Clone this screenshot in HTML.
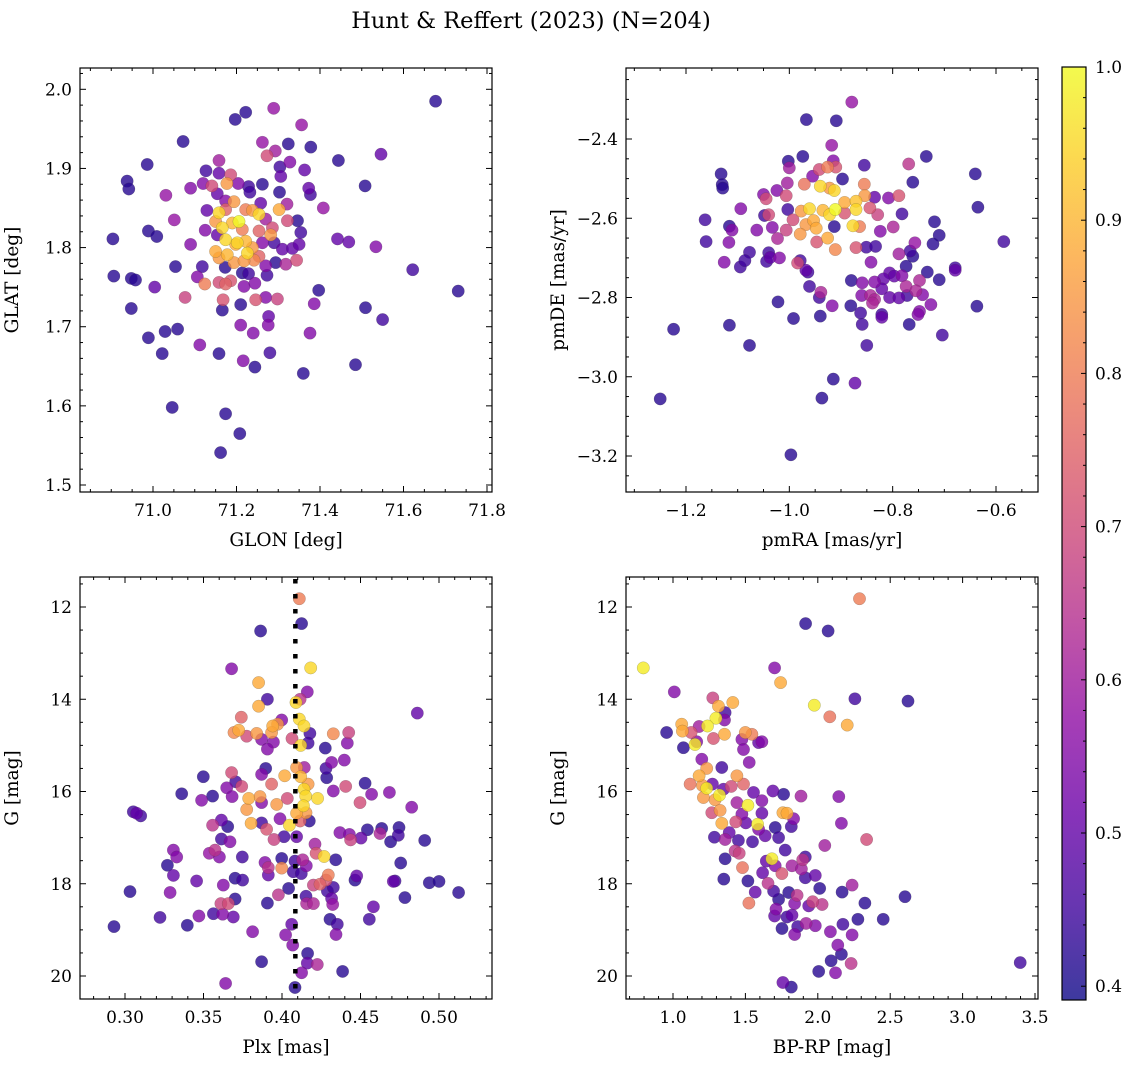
<!DOCTYPE html>
<html><head><meta charset="utf-8">
<style>
html,body{margin:0;padding:0;background:#fff;}
svg{display:block;font-family:"DejaVu Serif","Liberation Serif",serif;}
</style></head>
<body>
<svg id="fig" width="1136" height="1067" viewBox="0 0 1136 1067" xmlns="http://www.w3.org/2000/svg">
<text x="531" y="28" font-size="22.5" text-anchor="middle">Hunt &amp; Reffert (2023) (N=204)</text>
<g id="g1"></g>
<g id="g2"></g>
<g id="g3"></g>
<g id="g4"></g>
<g id="gcb"></g>
</svg>
<script>
// Panel 1: GLON / GLAT
const p1x=[71.677,71.289,71.222,71.197,71.356,71.072,71.262,71.324,71.378,71.293,71.273,71.546,71.158,71.444,70.986,71.328,71.304,71.127,71.363,71.158,71.306,71.186,70.938,70.942,71.12,71.141,71.177,71.204,71.09,71.262,71.229,71.232,71.303,71.373,71.377,71.508,71.031,71.154,71.174,71.194,71.258,71.321,71.408,71.129,71.158,71.174,71.222,71.238,71.254,71.302,71.051,71.206,71.19,71.15,71.322,71.346,71.27,71.166,71.214,71.254,71.286,71.125,70.989,71.009,70.904,71.354,71.282,71.154,71.174,71.202,71.222,71.238,71.226,71.198,71.262,71.29,71.31,71.334,71.35,71.442,71.469,71.534,71.09,71.15,71.158,71.178,71.194,71.218,71.242,71.254,71.294,71.318,71.344,71.054,71.118,71.173,71.27,71.622,70.906,70.948,70.958,71.106,71.214,71.229,71.273,71.158,71.186,71.174,71.124,71.218,71.244,71.004,71.731,71.397,71.077,71.168,71.246,71.27,71.298,70.948,71.21,71.166,71.386,71.509,71.55,71.277,71.276,71.21,71.029,71.059,71.24,71.376,70.989,71.112,71.022,71.158,71.28,71.216,71.244,71.36,71.485,71.046,71.174,71.208,71.162];
const p1y=[1.985,1.976,1.971,1.962,1.955,1.934,1.933,1.931,1.927,1.922,1.916,1.918,1.91,1.91,1.905,1.908,1.902,1.897,1.898,1.894,1.89,1.892,1.884,1.874,1.881,1.878,1.881,1.881,1.875,1.88,1.877,1.87,1.87,1.875,1.867,1.878,1.866,1.868,1.859,1.858,1.856,1.855,1.85,1.847,1.844,1.848,1.848,1.847,1.842,1.848,1.835,1.833,1.831,1.833,1.834,1.834,1.836,1.825,1.823,1.821,1.825,1.822,1.821,1.814,1.811,1.819,1.816,1.816,1.81,1.806,1.808,1.8,1.793,1.804,1.806,1.806,1.798,1.799,1.804,1.811,1.807,1.801,1.804,1.795,1.787,1.791,1.781,1.783,1.784,1.789,1.781,1.779,1.784,1.776,1.776,1.775,1.777,1.772,1.764,1.761,1.759,1.763,1.768,1.767,1.765,1.756,1.758,1.754,1.754,1.751,1.755,1.75,1.745,1.746,1.737,1.734,1.734,1.737,1.735,1.723,1.728,1.721,1.729,1.724,1.709,1.713,1.702,1.702,1.694,1.697,1.692,1.692,1.686,1.677,1.666,1.666,1.667,1.657,1.649,1.641,1.652,1.598,1.59,1.565,1.541];
const p1p=[0.42,0.58,0.42,0.42,0.58,0.42,0.58,0.42,0.42,0.6,0.7,0.5,0.6,0.42,0.42,0.55,0.45,0.45,0.5,0.5,0.5,0.7,0.42,0.42,0.55,0.7,0.85,0.55,0.55,0.42,0.45,0.45,0.42,0.5,0.45,0.42,0.58,0.5,0.55,0.85,0.5,0.6,0.58,0.5,0.95,0.75,0.8,0.85,0.95,0.88,0.58,1.0,0.9,0.85,0.7,0.42,0.6,0.95,0.8,0.75,0.7,0.55,0.42,0.42,0.42,0.45,0.85,0.5,0.95,0.95,0.9,0.85,0.95,0.88,0.55,0.45,0.5,0.5,0.5,0.5,0.5,0.55,0.55,0.88,0.85,0.9,0.85,0.85,0.82,0.75,0.42,0.62,0.7,0.42,0.45,0.42,0.55,0.45,0.42,0.42,0.42,0.55,0.42,0.45,0.45,0.7,0.72,0.75,0.8,0.55,0.55,0.5,0.42,0.42,0.68,0.72,0.72,0.55,0.68,0.42,0.42,0.42,0.55,0.42,0.45,0.5,0.55,0.55,0.42,0.42,0.55,0.55,0.42,0.55,0.42,0.42,0.45,0.55,0.42,0.42,0.42,0.42,0.42,0.42,0.42];
// Panel 2: pmRA / pmDE
const p2x=[-0.879,-0.967,-0.909,-0.918,-1.002,-1.0,-0.974,-0.915,-0.855,-0.769,-0.735,-1.132,-1.13,-1.129,-0.64,-0.635,-0.585,-0.942,-0.926,-0.91,-0.955,-0.897,-0.971,-1.004,-0.94,-0.913,-0.922,-0.855,-0.854,-0.761,-1.05,-1.024,-1.006,-1.045,-1.094,-0.893,-0.871,-0.835,-0.808,-0.788,-0.961,-0.977,-0.935,-0.911,-0.871,-1.003,-1.048,-1.04,-0.993,-0.953,-0.922,-0.893,-0.844,-0.829,-0.782,-1.163,-1.116,-1.111,-1.063,-1.033,-1.006,-0.968,-0.948,-0.913,-0.877,-0.864,-0.799,-0.824,-0.719,-0.71,-0.722,-0.757,-1.161,-1.117,-1.023,-0.979,-0.947,-0.926,-0.911,-0.871,-0.851,-0.833,-0.788,-0.766,-0.761,-1.077,-1.04,-1.037,-1.019,-1.126,-1.095,-1.086,-1.044,-0.984,-0.979,-0.842,-0.774,-0.968,-0.964,-0.806,-0.797,-0.782,-0.733,-0.679,-0.679,-0.88,-0.859,-0.835,-0.818,-0.748,-0.71,-0.961,-0.939,-0.942,-0.86,-0.843,-0.835,-0.821,-0.806,-0.788,-0.774,-0.772,-0.755,-0.742,-0.726,-1.022,-0.917,-0.881,-0.839,-0.637,-0.862,-0.821,-0.821,-0.748,-0.751,-0.992,-0.94,-0.859,-0.768,-1.224,-1.116,-0.704,-1.077,-0.85,-0.915,-0.873,-0.937,-1.25,-0.997];
const p2y=[-2.307,-2.351,-2.354,-2.416,-2.456,-2.473,-2.444,-2.455,-2.466,-2.463,-2.444,-2.488,-2.515,-2.524,-2.488,-2.572,-2.659,-2.477,-2.471,-2.471,-2.494,-2.501,-2.514,-2.511,-2.519,-2.53,-2.524,-2.514,-2.543,-2.509,-2.54,-2.53,-2.543,-2.551,-2.576,-2.56,-2.557,-2.547,-2.549,-2.543,-2.576,-2.582,-2.58,-2.578,-2.578,-2.578,-2.593,-2.591,-2.604,-2.606,-2.591,-2.587,-2.574,-2.591,-2.589,-2.604,-2.62,-2.63,-2.63,-2.623,-2.63,-2.616,-2.625,-2.621,-2.619,-2.621,-2.622,-2.633,-2.609,-2.643,-2.665,-2.662,-2.659,-2.661,-2.651,-2.64,-2.66,-2.65,-2.679,-2.674,-2.673,-2.671,-2.69,-2.683,-2.696,-2.686,-2.687,-2.699,-2.7,-2.711,-2.723,-2.707,-2.709,-2.713,-2.707,-2.711,-2.721,-2.731,-2.736,-2.738,-2.746,-2.745,-2.736,-2.725,-2.731,-2.757,-2.763,-2.761,-2.753,-2.757,-2.755,-2.772,-2.787,-2.8,-2.795,-2.795,-2.805,-2.778,-2.8,-2.801,-2.772,-2.795,-2.783,-2.793,-2.818,-2.811,-2.821,-2.821,-2.814,-2.822,-2.839,-2.843,-2.85,-2.835,-2.843,-2.853,-2.847,-2.868,-2.868,-2.88,-2.87,-2.895,-2.921,-2.921,-3.006,-3.016,-3.054,-3.056,-3.197];
const p2p=[0.58,0.42,0.42,0.58,0.42,0.6,0.42,0.55,0.45,0.65,0.42,0.42,0.42,0.42,0.42,0.42,0.45,0.7,0.8,0.72,0.55,0.42,0.78,0.6,0.95,0.95,0.85,0.8,0.85,0.42,0.55,0.55,0.7,0.7,0.55,0.88,0.92,0.5,0.55,0.72,0.95,0.85,0.9,1.0,0.95,0.45,0.45,0.7,0.7,0.88,0.95,0.72,0.72,0.68,0.45,0.45,0.42,0.55,0.55,0.55,0.68,0.85,0.88,0.42,0.95,0.8,0.62,0.55,0.42,0.42,0.42,0.58,0.45,0.55,0.62,0.85,0.72,0.88,0.82,0.72,0.45,0.45,0.6,0.45,0.42,0.45,0.45,0.5,0.55,0.55,0.45,0.45,0.45,0.7,0.45,0.55,0.42,0.5,0.45,0.5,0.5,0.55,0.42,0.45,0.5,0.42,0.55,0.55,0.5,0.62,0.42,0.45,0.62,0.45,0.55,0.62,0.62,0.5,0.5,0.5,0.62,0.45,0.62,0.55,0.55,0.42,0.55,0.42,0.62,0.42,0.45,0.45,0.5,0.55,0.55,0.42,0.42,0.45,0.42,0.42,0.42,0.45,0.42,0.45,0.42,0.5,0.42,0.42,0.42];
// Panel 3: Plx / G
const p3x=[0.411,0.4125,0.3864,0.3679,0.4183,0.3851,0.4161,0.3907,0.3851,0.4089,0.4115,0.4862,0.3741,0.3941,0.3972,0.3998,0.411,0.414,0.3694,0.3724,0.3775,0.3839,0.387,0.3945,0.3934,0.4064,0.4178,0.4166,0.4119,0.4327,0.4425,0.4416,0.3907,0.4276,0.4316,0.4397,0.3896,0.387,0.4093,0.4142,0.4017,0.4119,0.428,0.4285,0.3679,0.3499,0.3705,0.3648,0.3682,0.3743,0.3934,0.4166,0.414,0.4151,0.4227,0.4034,0.4327,0.4406,0.4529,0.4571,0.4684,0.3361,0.3558,0.3488,0.3788,0.386,0.387,0.3966,0.3775,0.4136,0.4093,0.4153,0.4497,0.4826,0.3053,0.3074,0.31,0.3803,0.387,0.3902,0.3987,0.4047,0.4115,0.4174,0.3558,0.3614,0.3654,0.4013,0.4093,0.3949,0.4369,0.4429,0.4437,0.4503,0.4544,0.4624,0.4635,0.4692,0.4741,0.4745,0.4909,0.3614,0.3669,0.3308,0.3329,0.3537,0.3573,0.3601,0.3747,0.3998,0.4083,0.421,0.4217,0.4268,0.4342,0.4132,0.4155,0.327,0.3308,0.3892,0.3913,0.3998,0.4072,0.4123,0.3913,0.4295,0.428,0.4756,0.3456,0.3701,0.3749,0.3626,0.42,0.4242,0.4465,0.4476,0.4709,0.472,0.4938,0.5,0.5125,0.3032,0.3287,0.4042,0.4289,0.4327,0.3977,0.4153,0.4316,0.4783,0.3701,0.3611,0.3658,0.3907,0.4157,0.42,0.4323,0.4582,0.3563,0.3622,0.369,0.3223,0.3471,0.4556,0.4306,0.4352,0.293,0.3397,0.3813,0.4062,0.4023,0.4344,0.4068,0.4163,0.387,0.4161,0.4225,0.4386,0.4125,0.3641,0.4083];
const p3y=[11.82,12.36,12.52,13.34,13.32,13.64,13.84,14.0,14.15,14.07,14.0,14.3,14.39,14.58,14.54,14.45,14.43,14.58,14.72,14.67,14.8,14.74,14.87,14.93,14.72,14.85,14.74,14.95,15.0,14.75,14.72,14.95,15.08,15.06,15.37,15.32,15.5,15.63,15.48,15.48,15.66,15.68,15.5,15.7,15.59,15.68,15.79,15.92,16.11,15.89,15.84,15.84,15.95,16.1,16.15,16.15,15.99,15.89,15.82,16.06,16.02,16.05,16.1,16.19,16.15,16.11,16.24,16.28,16.39,16.31,16.47,16.46,16.24,16.34,16.44,16.47,16.53,16.69,16.68,16.82,16.59,16.73,16.64,16.64,16.73,16.62,16.76,16.98,16.98,17.04,16.89,16.93,17.05,17.01,16.83,16.91,16.8,17.09,16.95,16.78,17.06,17.03,17.09,17.27,17.42,17.34,17.27,17.42,17.42,17.45,17.51,17.14,17.34,17.41,17.48,17.48,17.61,17.6,17.82,17.54,17.65,17.66,17.74,17.78,17.81,17.81,17.92,17.55,17.94,17.88,17.92,18.03,18.03,18.01,17.92,17.83,17.95,17.94,17.98,17.95,18.19,18.17,18.19,18.1,18.16,18.08,18.24,18.27,18.32,18.3,18.33,18.43,18.43,18.42,18.43,18.43,18.45,18.5,18.65,18.66,18.72,18.73,18.7,18.77,18.77,18.88,18.93,18.9,19.04,18.88,19.11,19.1,19.33,19.51,19.69,19.72,19.75,19.9,19.93,20.16,20.25];
const p3p=[0.8,0.42,0.42,0.55,0.95,0.88,0.55,0.45,0.88,0.95,0.65,0.5,0.75,0.88,0.85,0.55,0.95,0.95,0.82,0.88,0.7,0.85,0.55,0.55,0.85,0.7,0.45,0.45,0.95,0.82,0.68,0.55,0.55,0.42,0.55,0.55,0.42,0.55,0.85,0.6,0.88,0.9,0.45,0.42,0.7,0.42,0.45,0.55,0.55,0.7,0.75,0.85,0.95,0.95,0.95,0.7,0.55,0.7,0.42,0.55,0.55,0.42,0.42,0.55,0.88,0.85,0.55,0.85,0.85,0.95,0.88,0.85,0.7,0.55,0.45,0.5,0.45,0.88,0.45,0.72,0.55,0.95,0.75,0.42,0.65,0.5,0.42,0.45,0.5,0.68,0.55,0.55,0.68,0.5,0.42,0.62,0.42,0.42,0.45,0.42,0.42,0.45,0.55,0.55,0.55,0.58,0.65,0.55,0.45,0.42,0.45,0.6,0.72,0.95,0.42,0.62,0.55,0.42,0.5,0.55,0.65,0.82,0.45,0.45,0.5,0.8,0.72,0.42,0.5,0.42,0.45,0.55,0.68,0.75,0.42,0.5,0.5,0.45,0.42,0.42,0.42,0.42,0.55,0.42,0.45,0.45,0.65,0.45,0.5,0.42,0.42,0.68,0.7,0.42,0.62,0.62,0.58,0.5,0.45,0.55,0.5,0.45,0.55,0.45,0.42,0.45,0.42,0.42,0.55,0.5,0.55,0.55,0.55,0.42,0.42,0.5,0.62,0.42,0.55,0.55,0.42];
// Panel 4: BP-RP / G
const p4x=[2.288,1.916,2.071,0.795,1.702,1.743,1.009,2.256,2.623,1.275,1.314,1.413,1.976,1.36,1.356,1.296,2.083,2.203,0.956,1.06,1.065,1.125,1.18,1.238,1.356,1.279,1.152,1.164,1.072,1.499,1.545,1.476,1.591,1.614,1.487,1.526,1.199,1.233,1.337,1.18,1.118,1.203,1.233,1.272,1.349,1.321,1.21,1.291,1.441,1.487,1.402,1.441,1.517,1.556,1.614,1.69,1.764,1.884,2.145,1.268,1.325,1.476,1.614,1.759,1.787,1.833,1.337,1.434,1.503,1.584,1.591,1.706,1.817,2.163,1.286,1.36,1.388,1.452,1.549,1.637,1.729,2.048,2.337,1.429,1.457,1.36,1.683,1.775,1.914,1.896,1.644,1.48,1.619,1.706,1.752,1.822,1.887,1.351,1.517,1.656,1.914,1.983,2.237,1.568,1.695,1.799,1.857,2.013,2.168,2.602,1.729,1.84,1.937,1.965,2.03,1.524,2.325,1.711,1.702,1.787,1.822,1.919,1.983,1.861,1.753,1.84,2.173,2.277,2.452,2.087,2.237,2.138,2.163,2.092,2.23,2.006,2.122,3.398,1.759,1.817];
const p4y=[11.82,12.36,12.52,13.32,13.32,13.64,13.84,13.99,14.04,13.97,14.15,14.07,14.13,14.29,14.45,14.41,14.38,14.56,14.72,14.54,14.69,14.72,14.59,14.58,14.76,14.85,14.98,14.92,15.05,14.72,14.76,14.87,14.94,14.92,15.09,15.37,15.3,15.5,15.48,15.66,15.84,15.87,15.93,15.84,15.95,16.08,16.13,16.18,15.66,15.84,15.89,16.24,16.3,16.02,16.2,15.99,16.06,16.1,16.11,16.46,16.41,16.49,16.47,16.46,16.47,16.59,16.69,16.66,16.68,16.71,16.82,16.78,16.76,16.69,16.99,17.04,16.89,17.06,17.09,16.96,17.0,17.17,17.04,17.29,17.34,17.46,17.46,17.27,17.42,17.48,17.51,17.65,17.76,17.61,17.78,17.61,17.68,17.9,17.94,17.99,17.87,17.82,18.03,18.18,18.16,18.19,18.25,18.1,18.18,18.28,18.34,18.43,18.48,18.39,18.45,18.42,18.42,18.55,18.7,18.72,18.68,18.86,18.91,18.93,18.97,19.1,18.88,18.77,18.77,19.04,19.11,19.33,19.53,19.67,19.73,19.9,19.93,19.71,20.14,20.24];
const p4p=[0.8,0.42,0.42,0.98,0.55,0.88,0.55,0.45,0.42,0.68,0.88,0.88,0.98,0.45,0.55,0.98,0.78,0.88,0.42,0.88,0.88,0.72,0.6,0.98,0.88,0.72,0.98,0.55,0.42,0.85,0.8,0.55,0.5,0.55,0.55,0.55,0.55,0.85,0.45,0.88,0.78,0.85,0.98,0.5,0.5,0.98,0.85,0.85,0.85,0.75,0.7,0.6,0.98,0.5,0.55,0.5,0.42,0.6,0.55,0.7,0.85,0.55,0.5,0.88,0.88,0.55,0.88,0.7,0.5,0.98,0.55,0.42,0.45,0.55,0.45,0.6,0.5,0.45,0.45,0.5,0.45,0.6,0.7,0.65,0.68,0.42,0.98,0.45,0.45,0.65,0.5,0.78,0.5,0.55,0.72,0.6,0.6,0.42,0.42,0.65,0.45,0.5,0.6,0.5,0.45,0.42,0.65,0.42,0.42,0.42,0.42,0.55,0.5,0.68,0.65,0.78,0.42,0.55,0.5,0.45,0.5,0.6,0.55,0.45,0.42,0.55,0.45,0.42,0.42,0.55,0.55,0.55,0.42,0.42,0.65,0.42,0.55,0.45,0.5,0.42];
// colorbar ticks
const cbTicks=[0.4,0.5,0.6,0.7,0.8,0.9,1.0];
const plxRef=0.4085;

const NS='http://www.w3.org/2000/svg';
const VMIN=0.391, VMAX=1.0;
const plasma=[[13,8,135],[65,4,157],[106,0,168],[143,13,164],[177,42,144],[204,71,120],[225,100,98],[242,132,75],[252,166,54],[252,206,37],[240,249,33]];
function cmap(v){let t=(v-VMIN)/(VMAX-VMIN);t=Math.max(0,Math.min(1,t));const f=t*10,i=Math.min(9,Math.floor(f)),r=f-i;const a=plasma[i],b=plasma[i+1];return 'rgb('+[0,1,2].map(k=>Math.round(a[k]+(b[k]-a[k])*r)).join(',')+')';}
function el(tag,attrs,parent){const e=document.createElementNS(NS,tag);for(const k in attrs)e.setAttribute(k,attrs[k]);parent.appendChild(e);return e;}
function lin(d0,d1,r0,r1){return v=>r0+(v-d0)/(d1-d0)*(r1-r0);}
function inv(d0,d1,r0,r1){return p=>d0+(p-r0)/(r1-r0)*(d1-d0);}

function panel(g,box,xs,ys,xinv,yinv,xMaj,xMin,yMaj,yMin,fmtX,fmtY,xlabel,ylabel,X,Y,P){
  const [L,T,R,B]=box;
  const clipId='clip'+g.id;
  const cp=el('clipPath',{id:clipId},g);el('rect',{x:L,y:T,width:R-L,height:B-T},cp);
  const pts=el('g',{'clip-path':'url(#'+clipId+')'},g);
  
  
  const idx=P.map((p,i)=>i).sort((a,b)=>P[a]-P[b]);
  idx.forEach(i=>{
    const c=el('circle',{cx:xs(X[i]).toFixed(1),cy:ys(Y[i]).toFixed(1),r:6.2,fill:cmap(P[i]),'fill-opacity':0.8,stroke:'rgba(60,60,60,0.35)','stroke-width':0.5},pts);
    
    
  });
  g._pts=pts;
  const fr=el('rect',{x:L,y:T,width:R-L,height:B-T,fill:'none',stroke:'#000','stroke-width':1.2},g);
  
  
  const tk=el('g',{stroke:'#000','stroke-width':1},g);
  
  
  const lo=Math.min(xinv(L),xinv(R)),hi=Math.max(xinv(L),xinv(R));
  function range(step,a,b){const out=[];const s=Math.ceil(a/step-1e-6);for(let k=s;k*step<=b+1e-9;k++)out.push(+(k*step).toFixed(6));return out;}
  range(xMin,lo,hi).forEach(v=>{const x=xs(v);if(x<L+0.5||x>R-0.5)return;const maj=Math.abs(v/xMaj-Math.round(v/xMaj))<1e-4;const len=maj?6:3;el('line',{x1:x,y1:B,x2:x,y2:B-len},tk);el('line',{x1:x,y1:T,x2:x,y2:T+len},tk);
    if(maj){const t=el('text',{x:x,y:B+24,'font-size':17,'text-anchor':'middle',fill:'#000',stroke:'none'},g);t.textContent=fmtX(v);}});
  const ylo=Math.min(yinv(T),yinv(B)),yhi=Math.max(yinv(T),yinv(B));
  range(yMin,ylo,yhi).forEach(v=>{const y=ys(v);if(y<T+0.5||y>B-0.5)return;const maj=Math.abs(v/yMaj-Math.round(v/yMaj))<1e-4;const len=maj?6:3;el('line',{x1:L,y1:y,x2:L+len,y2:y},tk);el('line',{x1:R,y1:y,x2:R-len,y2:y},tk);
    if(maj){const t=el('text',{x:L-8,y:y+6,'font-size':17,'text-anchor':'end',fill:'#000',stroke:'none'},g);t.textContent=fmtY(v);}});
  const xl=el('text',{x:(L+R)/2,y:B+54,'font-size':18.5,'text-anchor':'middle'},g);xl.textContent=xlabel;
  
  
  const yx=L-62;
  const yl=el('text',{x:yx,y:(T+B)/2,'font-size':18.5,'text-anchor':'middle',transform:'rotate(-90 '+yx+' '+(T+B)/2+')'},g);yl.textContent=ylabel;
  
  
}
const minus=s=>s.replace('-','\u2212');
{const b=[80,68,492,492];const xs=lin(71.0,71.8,153,487),ys=lin(2.0,1.5,89.3,485);
panel(document.getElementById('g1'),b,xs,ys,inv(71.0,71.8,153,487),inv(2.0,1.5,89.3,485),0.2,0.05,0.1,0.02,v=>v.toFixed(1),v=>v.toFixed(1),'GLON [deg]','GLAT [deg]',p1x,p1y,p1p);}
{const b=[626,68,1038,492];const xs=lin(-1.2,-0.6,686,996),ys=lin(-2.4,-3.2,139,456);
panel(document.getElementById('g2'),b,xs,ys,inv(-1.2,-0.6,686,996),inv(-2.4,-3.2,139,456),0.2,0.05,0.2,0.05,v=>minus(v.toFixed(1)),v=>minus(v.toFixed(1)),'pmRA [mas/yr]','pmDE [mas/yr]',p2x,p2y,p2p);}
{const b=[80,577,492,999];const xs=lin(0.30,0.50,125,439),ys=lin(12,20,607,976);
const g=document.getElementById('g3');
panel(g,b,xs,ys,inv(0.30,0.50,125,439),inv(12,20,607,976),0.05,0.01,2,0.5,v=>v.toFixed(2),v=>v.toFixed(0),'Plx [mas]','G [mag]',p3x,p3y,p3p);
const ln=el('line',{x1:xs(plxRef),y1:579,x2:xs(plxRef),y2:999,stroke:'#000','stroke-width':4.5,'stroke-dasharray':'4.5 10.5'},g._pts);

}
{const b=[626,577,1038,999];const xs=lin(1.0,3.5,673,1035),ys=lin(12,20,607,976);
panel(document.getElementById('g4'),b,xs,ys,inv(1.0,3.5,673,1035),inv(12,20,607,976),0.5,0.1,2,0.5,v=>v.toFixed(1),v=>v.toFixed(0),'BP-RP [mag]','G [mag]',p4x,p4y,p4p);}
{const g=document.getElementById('gcb');const L=1062,R=1086,T=67,B=1000;const cy=lin(VMIN,VMAX,B,T);
const defs=el('defs',{},g);const lg=el('linearGradient',{id:'cbgrad',x1:0,y1:1,x2:0,y2:0},defs);
for(let i=0;i<=20;i++){const v=VMIN+(VMAX-VMIN)*i/20;const c=cmap(v);el('stop',{offset:(i/20),'stop-color':c,'stop-opacity':0.8},lg);}
const r=el('rect',{x:L,y:T,width:R-L,height:B-T,fill:'url(#cbgrad)',stroke:'#000','stroke-width':1.2},g);


for(let k=20;k<=50;k++){const v=k/50;if(v<VMIN)continue;const y=cy(v);const maj=k%5===0;el('line',{x1:R,y1:y,x2:R-(maj?5:3),y2:y,stroke:'#000','stroke-width':1},g);}
cbTicks.forEach(v=>{const t=el('text',{x:R+9,y:cy(v)+6,'font-size':17},g);t.textContent=v.toFixed(1);

});}
</script>
</body></html>
